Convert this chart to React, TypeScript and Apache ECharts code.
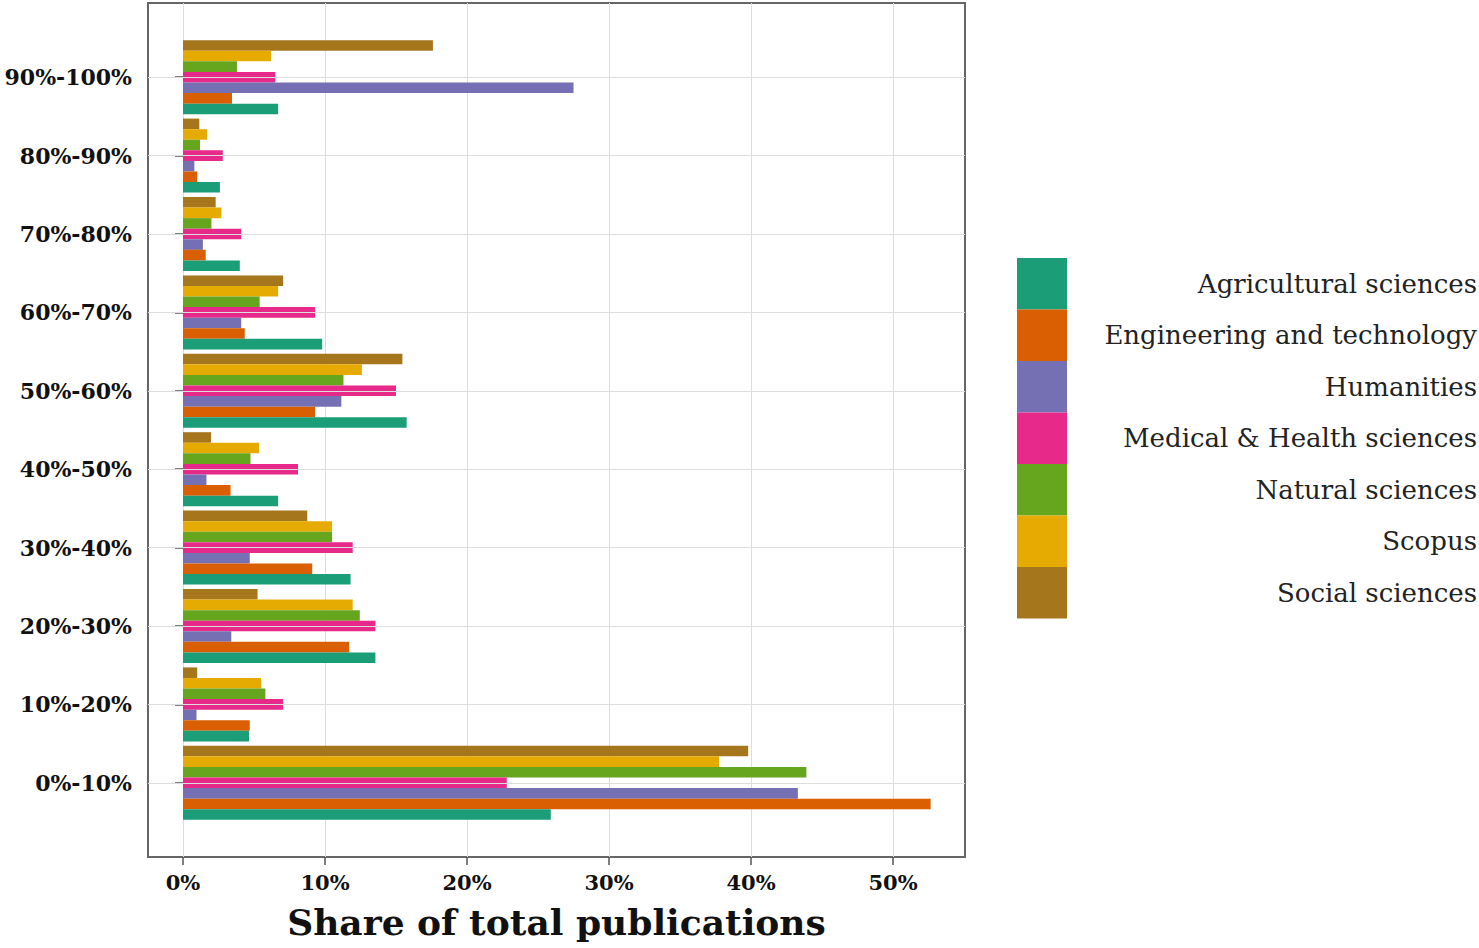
import React, { useEffect, useRef } from "react";
import * as echarts from "echarts";

const categories = ["0%-10%", "10%-20%", "20%-30%", "30%-40%", "40%-50%", "50%-60%", "60%-70%", "70%-80%", "80%-90%", "90%-100%"];
const seriesNames = ["Agricultural sciences", "Engineering and technology", "Humanities", "Medical & Health sciences", "Natural sciences", "Scopus", "Social sciences"];
const agricultural = [25.9, 4.65, 13.55, 11.8, 6.7, 15.75, 9.8, 4.0, 2.6, 6.7];
const engineering = [52.65, 4.7, 11.7, 9.1, 3.35, 9.3, 4.35, 1.6, 1.0, 3.45];
const humanities = [43.3, 0.95, 3.4, 4.7, 1.65, 11.15, 4.1, 1.4, 0.8, 27.5];
const medical = [22.8, 7.05, 13.55, 11.95, 8.1, 15.0, 9.3, 4.1, 2.8, 6.5];
const natural = [43.9, 5.8, 12.45, 10.5, 4.75, 11.3, 5.4, 2.0, 1.2, 3.8];
const scopus = [37.75, 5.5, 11.95, 10.5, 5.35, 12.6, 6.7, 2.7, 1.7, 6.2];
const social = [39.8, 1.0, 5.25, 8.75, 1.97, 15.45, 7.05, 2.3, 1.15, 17.6];
const xTicks = [0, 10, 20, 30, 40, 50];
const colors = ["#1B9E77", "#D95F02", "#7570B3", "#E7298A", "#66A61E", "#E6AB02", "#A6761D"];

const allValues = [agricultural, engineering, humanities, medical, natural, scopus, social];

export default function App() {
  const ref = useRef<HTMLDivElement>(null);
  useEffect(() => {
    if (!ref.current) return;
    const chart = echarts.init(ref.current, null, { renderer: "svg" });
    const xMin = -2.465;
    const xMax = 55.07;
    const serif = "DejaVu Serif";
    // ECharts places the first series at the top of each group on a vertical category axis,
    // so the series are added in reverse order (legend keeps the original order).
    const barSeries = seriesNames
      .map((name, i) => ({
        name,
        type: "bar",
        xAxisIndex: 1,
        yAxisIndex: 1,
        data: allValues[i],
        barGap: "0%",
        barCategoryGap: "5.6%",
        z: 3,
        itemStyle: { color: colors[i] },
      }))
      .reverse();
    chart.setOption({
      animation: false,
      backgroundColor: "#ffffff",
      grid: [
        { left: 148, top: 3, width: 817, height: 854, show: true, borderColor: "#666666", borderWidth: 2, backgroundColor: "transparent", containLabel: false, outerBoundsMode: "none" },
        { left: 148, top: 38, width: 817, height: 784, containLabel: false, outerBoundsMode: "none" },
      ],
      xAxis: [
        {
          type: "value",
          gridIndex: 0,
          min: xMin,
          max: xMax,
          axisLine: { show: false },
          axisTick: { show: true, length: 8, lineStyle: { color: "#555", width: 1.5 }, customValues: xTicks },
          axisLabel: {
            customValues: xTicks,
            formatter: (v: number) => `${v}%`,
            color: "#111",
            fontFamily: serif,
            fontWeight: "bold",
            fontSize: 21,
            margin: 15,
          },
          splitLine: { show: true, lineStyle: { color: "#dddddd", width: 1 } },
          name: "Share of total publications",
          nameLocation: "middle",
          nameGap: 47,
          nameTextStyle: { fontFamily: serif, fontWeight: "bold", fontSize: 36, color: "#111" },
        },
        { type: "value", gridIndex: 1, min: xMin, max: xMax, show: false },
      ],
      yAxis: [
        { type: "value", gridIndex: 0, min: 0, max: 1, show: false },
        {
          type: "category",
          gridIndex: 1,
          data: categories,
          axisLine: { show: false },
          axisTick: { show: true, alignWithLabel: true, length: 8, lineStyle: { color: "#555", width: 1.5 } },
          axisLabel: { color: "#111", fontFamily: serif, fontWeight: "bold", fontSize: 22, margin: 16 },
          splitLine: { show: false },
        },
      ],
      legend: {
        data: seriesNames,
        orient: "vertical",
        left: 1017,
        top: 258,
        padding: 0,
        itemWidth: 50,
        itemHeight: 51.5,
        itemGap: 0,
        icon: "rect",
        selectedMode: false,
        formatter: (name: string) => `{t|${name}}`,
        textStyle: {
          rich: {
            t: { width: 405, align: "right", fontFamily: serif, fontSize: 26, color: "#222" },
          },
        },
      },
      series: [
        {
          name: "gridlines",
          type: "line",
          xAxisIndex: 1,
          yAxisIndex: 1,
          data: [],
          z: 1,
          markLine: {
            silent: true,
            symbol: "none",
            label: { show: false },
            lineStyle: { color: "#dddddd", type: "solid", width: 1 },
            data: categories.map((c) => ({ yAxis: c })),
          },
        },
        ...barSeries,
      ],
    });
    return () => chart.dispose();
  }, []);
  return <div ref={ref} style={{ position: "absolute", left: 0, top: 0, width: 1479, height: 948 }} />;
}
